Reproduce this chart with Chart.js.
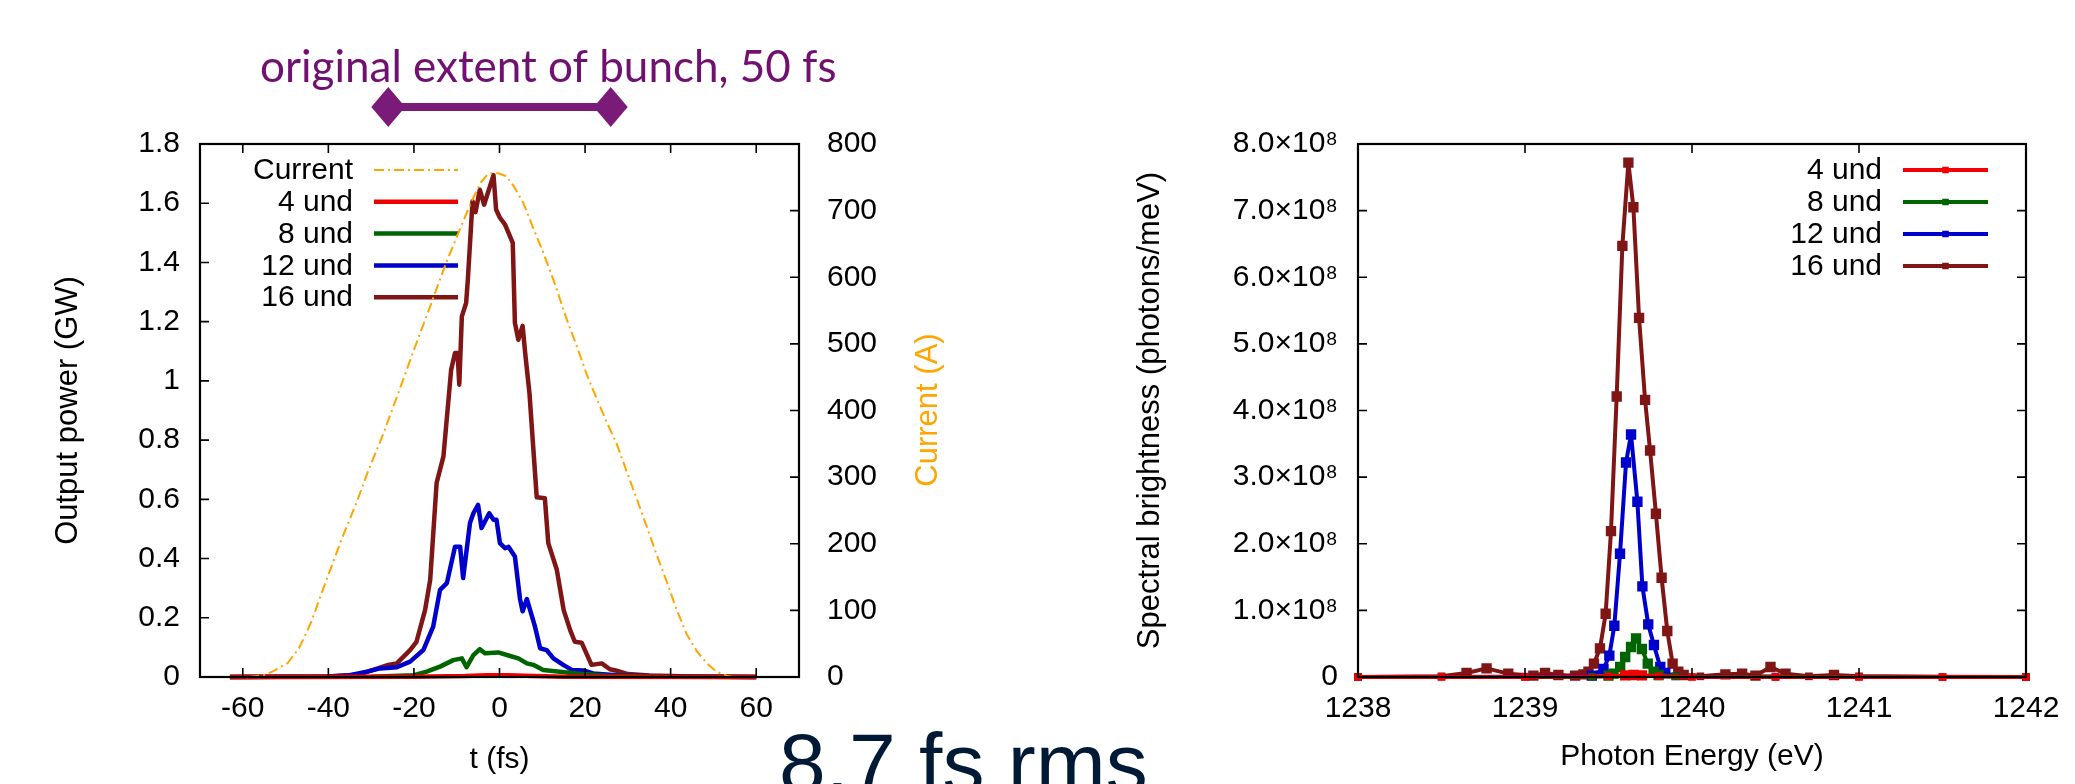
<!DOCTYPE html>
<html>
<head>
<meta charset="utf-8">
<script src="https://cdn.jsdelivr.net/npm/chart.js@4"></script>
<style>
  html, body { margin: 0; padding: 0; background: #fff; overflow: hidden; }
  #wrap { position: relative; width: 2075px; height: 784px; }
  #left { position: absolute; left: 0; top: 0; }
  #right { position: absolute; left: 1000px; top: 0; }
  #rms { position: absolute; left: 779px; top: 721px; font: 84px 'Liberation Sans', Arial, sans-serif; line-height: 1; color: #001a35; white-space: nowrap; }
</style>
</head>
<body>
<div id="wrap">
  <canvas id="left" width="1000" height="784"></canvas>
  <canvas id="right" width="1075" height="784"></canvas>
  <div id="rms">8.7 fs rms</div>
</div>
<script>
// --- left panel: output power vs time (GW), current (A) ---
const tTicks = [-60, -40, -20, 0, 20, 40, 60];
const powerTicks = [0, 0.2, 0.4, 0.6, 0.8, 1, 1.2, 1.4, 1.6, 1.8];
const currentTicks = [0, 100, 200, 300, 400, 500, 600, 700, 800];

const tCur = [-58.5, -55, -53.1, -49.5, -46.8, -44.1, -40.6, -37, -33.4, -30.7, -27.1, -23.5, -20, -16.4, -12.8, -9.2, -6.5, -4.3, -2.5, -0.3, 1.5, 3.3, 5.6, 8.0, 10.3, 13.0, 15.7, 18.1, 20.4, 22.7, 25.1, 27.4, 29.7, 32.1, 34.4, 36.7, 39.1, 41.4, 43.7, 46.1, 48.4, 50.7, 53.1, 54.6];
const iCur = [0, 3, 8, 21, 44, 81, 143, 205, 262, 309, 366, 429, 491, 553, 616, 673, 714, 743, 756, 756, 752, 737, 711, 672, 636, 589, 537, 496, 454, 418, 382, 350, 309, 267, 226, 184, 143, 101, 65, 39, 21, 8, 2, 0];

const t4 = [-63, -20, -8, -3, 2, 6, 15, 60];
const p4 = [0, 0.001, 0.003, 0.006, 0.006, 0.004, 0.001, 0];

const t8 = [-63, -30, -20, -17.0, -13.9, -10.8, -8.8, -7.7, -6.1, -4.6, -3.4, -0.3, 2.5, 4.4, 6.4, 7.9, 10.2, 14.1, 18.0, 25, 40, 60];
const p8 = [0, 0.001, 0.006, 0.018, 0.035, 0.057, 0.063, 0.033, 0.074, 0.094, 0.080, 0.083, 0.071, 0.063, 0.046, 0.041, 0.024, 0.018, 0.012, 0.004, 0.001, 0];

const t12 = [-63, -40, -35, -31.0, -27.9, -24.0, -20.9, -17.8, -15.5, -13.9, -12.3, -10.4, -9.2, -8.5, -6.9, -6.1, -5.0, -4.2, -2.4, -1.4, -0.7, 0.1, 1.3, 2.1, 3.6, 4.8, 5.4, 6.4, 8.3, 9.5, 11.0, 12.6, 14.9, 16.9, 19.6, 21.9, 28, 40, 60];
const p12 = [0, 0.002, 0.006, 0.018, 0.029, 0.033, 0.052, 0.091, 0.170, 0.294, 0.317, 0.440, 0.440, 0.334, 0.520, 0.553, 0.581, 0.503, 0.553, 0.531, 0.531, 0.452, 0.435, 0.440, 0.407, 0.263, 0.222, 0.263, 0.170, 0.097, 0.091, 0.063, 0.041, 0.024, 0.022, 0.012, 0.005, 0.002, 0];

const t16 = [-63, -40, -33, -29.5, -26, -24, -20.9, -19.4, -17.4, -16.2, -14.7, -13.1, -11.3, -10.4, -9.8, -9.4, -8.8, -7.8, -7.4, -6.3, -5.6, -4.6, -3.6, -1.4, -0.8, 0.1, 1.3, 3.1, 3.6, 4.4, 5.4, 6.0, 7.0, 8.7, 10.6, 11.4, 13.4, 15.0, 16.5, 17.6, 19.2, 21.5, 23.9, 25.8, 27.4, 30, 35, 45, 60];
const p16 = [0, 0.002, 0.008, 0.024, 0.041, 0.046, 0.091, 0.119, 0.226, 0.328, 0.655, 0.745, 1.038, 1.094, 1.094, 0.987, 1.218, 1.263, 1.342, 1.607, 1.570, 1.646, 1.595, 1.695, 1.579, 1.551, 1.528, 1.466, 1.196, 1.139, 1.186, 1.094, 0.959, 0.607, 0.604, 0.452, 0.362, 0.226, 0.159, 0.119, 0.116, 0.041, 0.046, 0.026, 0.021, 0.01, 0.005, 0.002, 0];

const bunchExtent = [-26, 26];   // fs, "original extent of bunch"

// --- right panel: spectral brightness vs photon energy ---
const eTicks = [1238, 1239, 1240, 1241, 1242];
const bTicks = [0, 1e8, 2e8, 3e8, 4e8, 5e8, 6e8, 7e8, 8e8];
const bTickLabels = ['0', '1.0×10⁸', '2.0×10⁸', '3.0×10⁸', '4.0×10⁸', '5.0×10⁸', '6.0×10⁸', '7.0×10⁸', '8.0×10⁸'];

const e4 = [1238, 1238.5, 1239, 1239.5, 1239.6, 1239.65, 1239.7, 1239.8, 1240, 1240.5, 1241, 1241.5, 1242];
const b4 = [0, 0, 0, 0.01e8, 0.025e8, 0.03e8, 0.025e8, 0.01e8, 0, 0, 0, 0, 0];

const e8 = [1238, 1239.4, 1239.5, 1239.53, 1239.57, 1239.6, 1239.635, 1239.665, 1239.70, 1239.735, 1239.77, 1239.8, 1239.9, 1242];
const b8 = [0, 0.003e8, 0.02e8, 0.05e8, 0.15e8, 0.30e8, 0.45e8, 0.58e8, 0.42e8, 0.20e8, 0.08e8, 0.03e8, 0.01e8, 0];

const e12 = [1238, 1239, 1239.4, 1239.47, 1239.505, 1239.535, 1239.569, 1239.605, 1239.635, 1239.673, 1239.703, 1239.738, 1239.772, 1239.81, 1239.84, 1239.9, 1240.5, 1242];
const b12 = [0, 0.005e8, 0.02e8, 0.12e8, 0.32e8, 0.77e8, 1.85e8, 3.22e8, 3.64e8, 2.63e8, 1.36e8, 0.79e8, 0.48e8, 0.15e8, 0.06e8, 0.01e8, 0.005e8, 0];

const e16 = [1238, 1238.5, 1238.65, 1238.77, 1238.9, 1239.05, 1239.12, 1239.2, 1239.3, 1239.35, 1239.38, 1239.413, 1239.449, 1239.483, 1239.515, 1239.549, 1239.583, 1239.619, 1239.649, 1239.683, 1239.719, 1239.749, 1239.784, 1239.818, 1239.852, 1239.884, 1239.918, 1239.95, 1240.05, 1240.2, 1240.3, 1240.38, 1240.47, 1240.56, 1240.7, 1240.85, 1241, 1241.5, 1242];
const b16 = [0, 0.01e8, 0.06e8, 0.13e8, 0.05e8, 0.02e8, 0.06e8, 0.03e8, 0.02e8, 0.04e8, 0.08e8, 0.20e8, 0.43e8, 0.95e8, 2.19e8, 4.21e8, 6.47e8, 7.72e8, 7.05e8, 5.39e8, 4.16e8, 3.40e8, 2.45e8, 1.49e8, 0.69e8, 0.20e8, 0.08e8, 0.03e8, 0.01e8, 0.04e8, 0.05e8, 0.02e8, 0.15e8, 0.05e8, 0.01e8, 0.03e8, 0.01e8, 0, 0];

const C4 = '#f00000', C8 = '#006400', C12 = '#0000cd', C16 = '#7f1515', CCUR = '#ffa500';
const FONT = "'Liberation Sans', Arial, sans-serif";

function xy(xs, ys) { return xs.map((x, i) => ({ x: x, y: ys[i] })); }
function fixTicks(list) { return s => { s.ticks = list.map(v => ({ value: v })); }; }

// frame + inward (gnuplot-style) tick marks, drawn over the data
const frameTicks = {
    id: 'frameTicks',
    afterDatasetsDraw(chart, args, o) {
        const ctx = chart.ctx, a = chart.chartArea, L = 9;
        ctx.save();
        ctx.strokeStyle = '#000';
        ctx.lineWidth = 1.6;
        ctx.beginPath();
        Object.values(chart.scales).forEach(s => {
            s.ticks.forEach(t => {
                const p = s.getPixelForValue(t.value);
                if (s.isHorizontal()) {
                    ctx.moveTo(p, a.bottom); ctx.lineTo(p, a.bottom - L);
                    ctx.moveTo(p, a.top); ctx.lineTo(p, a.top + L);
                } else if (s.position === 'left') {
                    ctx.moveTo(a.left, p); ctx.lineTo(a.left + L, p);
                    if (o.mirrorY) { ctx.moveTo(a.right, p); ctx.lineTo(a.right - L, p); }
                } else {
                    ctx.moveTo(a.right, p); ctx.lineTo(a.right - L, p);
                }
            });
        });
        ctx.stroke();
        ctx.lineWidth = 2.2;
        ctx.strokeRect(a.left, a.top, a.right - a.left, a.bottom - a.top);
        ctx.restore();
    }
};

// key: label right-aligned, then a sample line (and marker)
const gnuKey = {
    id: 'gnuKey',
    beforeDatasetsDraw(chart, args, o) {
        const ctx = chart.ctx;
        ctx.save();
        ctx.font = '30px ' + FONT;
        ctx.textAlign = 'right';
        ctx.textBaseline = 'middle';
        chart.data.datasets.forEach((ds, i) => {
            const y = o.y + i * o.rowH;
            ctx.fillStyle = '#000';
            ctx.fillText(ds.label, o.textRight, y + 1);
            ctx.strokeStyle = ds.borderColor;
            ctx.lineWidth = ds.borderWidth;
            ctx.setLineDash(ds.borderDash || []);
            ctx.beginPath();
            ctx.moveTo(o.x0, y); ctx.lineTo(o.x1, y);
            ctx.stroke();
            ctx.setLineDash([]);
            if (o.marker) {
                const s = o.marker, mx = (o.x0 + o.x1) / 2;
                ctx.fillStyle = ds.borderColor;
                ctx.fillRect(mx - s / 2, y - s / 2, s, s);
            }
        });
        ctx.restore();
    }
};

// bunch-extent arrow and label above the left panel, plus the rotated orange right-axis title
const leftExtras = {
    id: 'leftExtras',
    afterDraw(chart) {
        const ctx = chart.ctx, xs = chart.scales.x;
        const x0 = xs.getPixelForValue(bunchExtent[0]), x1 = xs.getPixelForValue(bunchExtent[1]);
        const y = 107, hw = 17, hh = 20;
        ctx.save();
        ctx.fillStyle = '#7b1b79';
        ctx.fillRect(x0, y - 4, x1 - x0, 8);
        [x0, x1].forEach(x => {
            ctx.beginPath();
            ctx.moveTo(x - hw, y); ctx.lineTo(x, y - hh); ctx.lineTo(x + hw, y); ctx.lineTo(x, y + hh);
            ctx.closePath();
            ctx.fill();
        });
        const txt = 'original extent of bunch, 50 fs';
        ctx.font = "100px Lato, 'Open Sans', sans-serif";
        const size = 100 * 577 / ctx.measureText(txt).width;
        ctx.font = size.toFixed(1) + "px Lato, 'Open Sans', sans-serif";
        ctx.fillStyle = '#701070';
        ctx.textAlign = 'left';
        ctx.textBaseline = 'alphabetic';
        ctx.fillText(txt, 260, 82);

        ctx.translate(928, 410);
        ctx.rotate(-Math.PI / 2);
        ctx.font = '31px ' + FONT;
        ctx.fillStyle = CCUR;
        ctx.textAlign = 'center';
        ctx.textBaseline = 'middle';
        ctx.fillText('Current (A)', 0, 0);
        ctx.restore();
    }
};

const tickFont = { family: FONT, size: 30, lineHeight: 1.2 };
const titleFont = { family: FONT, size: 31, lineHeight: 1 };
const noGrid = { display: false, drawTicks: false };

new Chart(document.getElementById('left'), {
    type: 'line',
    data: {
        datasets: [
            { label: 'Current', data: xy(tCur, iCur), yAxisID: 'y2', borderColor: CCUR, borderWidth: 2, borderDash: [10, 4, 2, 4] },
            { label: '4 und', data: xy(t4, p4), yAxisID: 'y', borderColor: C4, borderWidth: 4.5 },
            { label: '8 und', data: xy(t8, p8), yAxisID: 'y', borderColor: C8, borderWidth: 4.5 },
            { label: '12 und', data: xy(t12, p12), yAxisID: 'y', borderColor: C12, borderWidth: 4.5 },
            { label: '16 und', data: xy(t16, p16), yAxisID: 'y', borderColor: C16, borderWidth: 4.5 }
        ]
    },
    options: {
        responsive: false,
        animation: false,
        events: [],
        layout: { padding: { top: 144, left: 50, right: 51, bottom: 0 } },
        elements: { point: { radius: 0 }, line: { tension: 0, borderJoinStyle: 'round' } },
        datasets: { line: { clip: 8 } },
        plugins: {
            legend: { display: false },
            tooltip: { enabled: false },
            gnuKey: { textRight: 353, x0: 374, x1: 458, y: 170, rowH: 31.8 },
            frameTicks: { mirrorY: false }
        },
        scales: {
            x: {
                type: 'linear', min: -70, max: 70,
                afterBuildTicks: fixTicks(tTicks),
                afterFit: s => { s.height = 107; },
                ticks: { font: tickFont, color: '#000', padding: 14, maxRotation: 0, autoSkip: false, callback: v => String(v) },
                grid: noGrid, border: { display: false },
                title: { display: true, text: 't (fs)', font: { family: FONT, size: 30, lineHeight: 1 }, color: '#000', padding: { top: 0, bottom: 9 } }
            },
            y: {
                position: 'left', min: 0, max: 1.8,
                afterBuildTicks: fixTicks(powerTicks),
                afterFit: s => { s.width = 150; },
                ticks: { font: tickFont, color: '#000', padding: 20, callback: v => String(v) },
                grid: noGrid, border: { display: false },
                title: { display: true, text: 'Output power (GW)', font: titleFont, color: '#000', padding: { top: 3, bottom: 0 } }
            },
            y2: {
                position: 'right', min: 0, max: 800,
                afterBuildTicks: fixTicks(currentTicks),
                afterFit: s => { s.width = 150; },
                ticks: { font: tickFont, color: '#000', padding: 28, callback: v => String(v) },
                grid: noGrid, border: { display: false }
            }
        }
    },
    plugins: [gnuKey, frameTicks, leftExtras]
});

// markers shrink on the baseline so they merge into the thick zero line
const specSet = (label, xs, ys, c) => ({
    label: label, data: xy(xs, ys), borderColor: c, backgroundColor: c,
    pointBackgroundColor: c, pointBorderColor: c, borderWidth: 4,
    pointStyle: 'rect',
    pointRadius: p => (p.raw && p.raw.y >= 0.015e8 ? 4.5 : 2.6)
});

new Chart(document.getElementById('right'), {
    type: 'line',
    data: {
        datasets: [
            specSet('4 und', e4, b4, C4),
            specSet('8 und', e8, b8, C8),
            specSet('12 und', e12, b12, C12),
            specSet('16 und', e16, b16, C16)
        ]
    },
    options: {
        responsive: false,
        animation: false,
        events: [],
        layout: { padding: { top: 144, left: 130, right: 49, bottom: 0 } },
        elements: { line: { tension: 0, borderJoinStyle: 'round' } },
        datasets: { line: { clip: 8 } },
        plugins: {
            legend: { display: false },
            tooltip: { enabled: false },
            gnuKey: { textRight: 882, x0: 903, x1: 988, y: 170, rowH: 32, marker: 6.5 },
            frameTicks: { mirrorY: true }
        },
        scales: {
            x: {
                type: 'linear', min: 1238, max: 1242,
                afterBuildTicks: fixTicks(eTicks),
                afterFit: s => { s.height = 107; },
                ticks: { font: tickFont, color: '#000', padding: 14, maxRotation: 0, autoSkip: false, callback: v => String(v) },
                grid: noGrid, border: { display: false },
                title: { display: true, text: 'Photon Energy (eV)', font: { family: FONT, size: 30, lineHeight: 1 }, color: '#000', padding: { top: 0, bottom: 12 } }
            },
            y: {
                position: 'left', min: 0, max: 8e8,
                afterBuildTicks: fixTicks(bTicks),
                afterFit: s => { s.width = 228; },
                ticks: { font: tickFont, color: '#000', padding: 20, callback: (v, i) => bTickLabels[i] },
                grid: noGrid, border: { display: false },
                title: { display: true, text: 'Spectral brightness (photons/meV)', font: titleFont, color: '#000', padding: { top: 4.5, bottom: 0 } }
            }
        }
    },
    plugins: [gnuKey, frameTicks]
});
</script>
</body>
</html>
